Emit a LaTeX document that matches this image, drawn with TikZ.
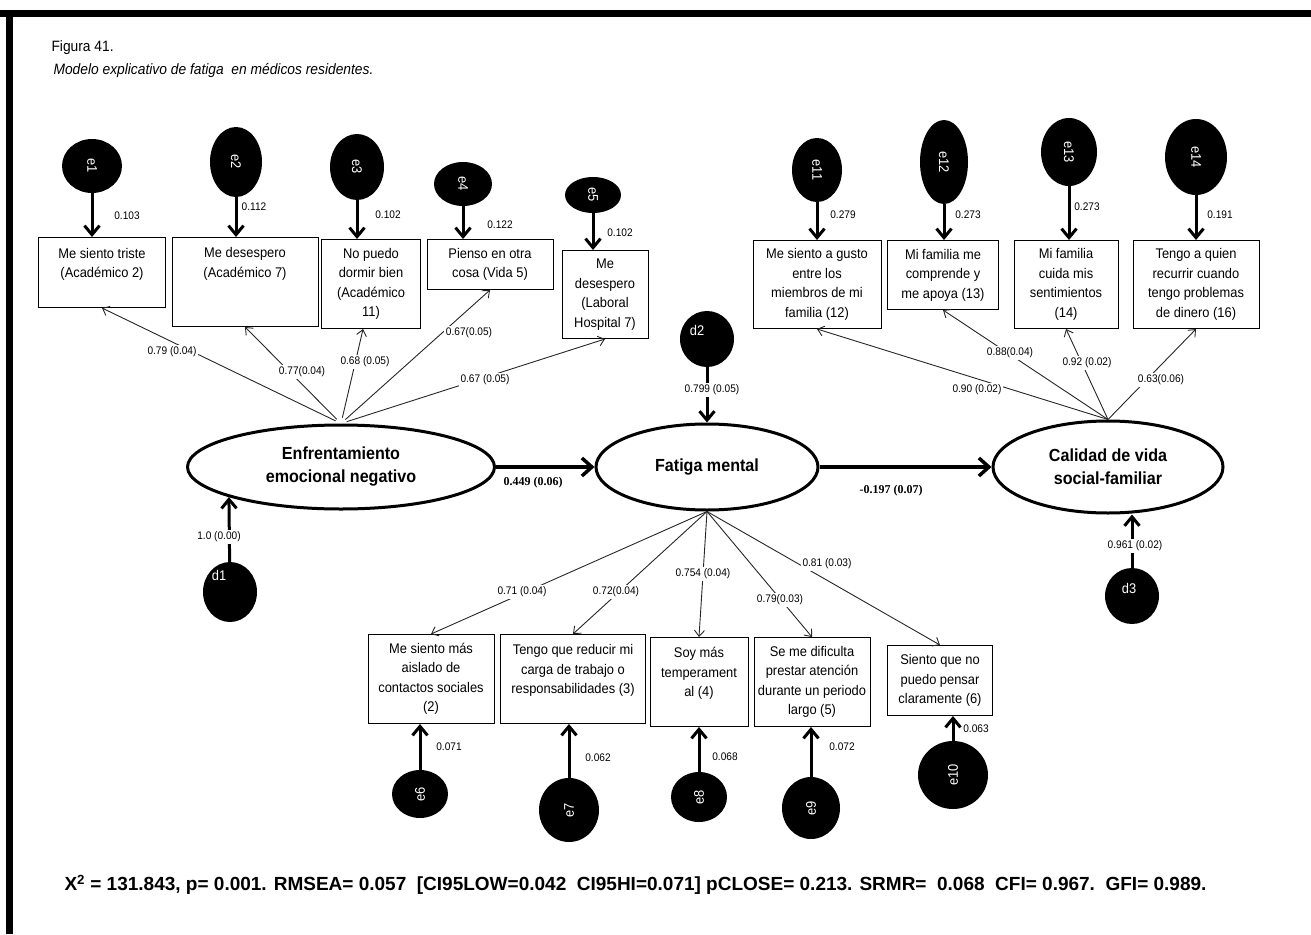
\documentclass[tikz,border=0pt]{standalone}
\usepackage{fontspec}
\setmainfont{Liberation Sans}
\newfontfamily\narrowsf[FakeStretch=0.92]{Liberation Sans}
\newfontfamily\serifnum{Liberation Serif}
\usetikzlibrary{arrows.meta,shapes.geometric}

\begin{document}
\begin{tikzpicture}[x=1pt, y=-1pt,
	ind/.style={draw, line width=1pt, inner sep=1pt, align=center, anchor=north, font=\narrowsf\fontsize{14}{19.5}\selectfont},
	lat/.style={draw, ellipse, line width=3pt, inner sep=0pt, align=center, font=\narrowsf\bfseries\fontsize{17.5}{23}\selectfont},
	err/.style={ellipse, fill=black, inner sep=0pt, text=white, font=\narrowsf\fontsize{14}{16}\selectfont},
	dlab/.style={text=white, font=\narrowsf\fontsize{14}{16}\selectfont},
	load/.style={line width=0.9pt, draw=black!85, -{Straight Barb[length=6pt,width=10pt]}},
	res/.style={line width=3pt, -{Straight Barb[length=9pt,width=15pt]}},
	regr/.style={line width=3.5pt, -{Straight Barb[length=10pt,width=18pt]}},
	num/.style={font=\narrowsf\fontsize{11}{13}\selectfont, inner sep=1.5pt},
	coef/.style={num, fill=white},
	beta/.style={font=\serifnum\bfseries\fontsize{12}{14}\selectfont}]
	\useasboundingbox (0,0) rectangle (1311,934);
	\fill (0,10) rectangle (1311,17);
	\fill (6,10) rectangle (13,934);

	\node[anchor=west, font=\narrowsf\fontsize{15}{17}\selectfont] at (48,48) {Figura 41.};
	\node[anchor=west, font=\narrowsf\itshape\fontsize{15}{17}\selectfont] at (50,71) {Modelo explicativo de fatiga~ en médicos residentes.};

	% latent variables
	\node[lat, minimum width=307, minimum height=84] (enf) at (341,467) {Enfrentamiento\\emocional negativo};
	\node[lat, minimum width=222, minimum height=86] (fat) at (707,467) {Fatiga mental};
	\node[lat, minimum width=230, minimum height=92] (cal) at (1108,467) {Calidad de vida\\social-familiar};

	% items
	\node[ind, minimum width=127, minimum height=70] (x1) at (102,237) {Me siento triste\\(Académico 2)\\~};
	\node[ind, minimum width=146, minimum height=89] (x2) at (245,237) {Me desespero\\(Académico 7)\\~\\~};
	\node[ind, minimum width=99, minimum height=89] (x3) at (371,239) {No puedo\\dormir bien\\(Académico\\11)};
	\node[ind, minimum width=126, minimum height=50] (x4) at (490,239) {Pienso en otra\\cosa (Vida 5)};
	\node[ind, minimum width=86, minimum height=88] (x5) at (605,250) {Me\\desespero\\(Laboral\\Hospital 7)};
	\node[ind, minimum width=126, minimum height=89] (x6) at (431,634) {Me siento más\\aislado de\\contactos sociales\\(2)};
	\node[ind, minimum width=145, minimum height=89] (x7) at (573,634) {Tengo que reducir mi\\carga de trabajo o\\responsabilidades (3)\\~};
	\node[ind, minimum width=98, minimum height=89] (x8) at (699,637) {Soy más\\temperament\\al (4)\\~};
	\node[ind, minimum width=116, minimum height=89] (x9) at (812,637) {Se me dificulta\\prestar atención\\durante un periodo\\largo (5)};
	\node[ind, minimum width=105, minimum height=70] (x10) at (940,645) {Siento que no\\puedo pensar\\claramente (6)};
	\node[ind, minimum width=128, minimum height=88] (x11) at (817,240) {Me siento a gusto\\entre los\\miembros de mi\\familia (12)};
	\node[ind, minimum width=111, minimum height=69] (x12) at (943,240) {Mi familia me\\comprende y\\me apoya (13)};
	\node[ind, minimum width=104, minimum height=88] (x13) at (1066,240) {Mi familia\\cuida mis\\sentimientos\\(14)};
	\node[ind, minimum width=126, minimum height=88] (x14) at (1196,240) {Tengo a quien\\recurrir cuando\\tengo problemas\\de dinero (16)};

	% error terms
	\node[err, minimum width=60, minimum height=54] (e1) at (92,166) {\rotatebox{-90}{e1}};
	\node[err, minimum width=52, minimum height=70] (e2) at (236,162) {\rotatebox{-90}{e2}};
	\node[err, minimum width=54, minimum height=66] (e3) at (357,167) {\rotatebox{-90}{e3}};
	\node[err, minimum width=58, minimum height=44] (e4) at (463,184) {\rotatebox{-90}{e4}};
	\node[err, minimum width=56, minimum height=36] (e5) at (593,195) {\rotatebox{-90}{e5}};
	\node[err, minimum width=50, minimum height=64] (e11) at (817,170) {\rotatebox{-90}{e11}};
	\node[err, minimum width=48, minimum height=84] (e12) at (944,162) {\rotatebox{-90}{e12}};
	\node[err, minimum width=56, minimum height=68] (e13) at (1069,152) {\rotatebox{-90}{e13}};
	\node[err, minimum width=62, minimum height=76] (e14) at (1196,157) {\rotatebox{-90}{e14}};
	\node[err, minimum width=56, minimum height=48] (e6) at (420,794) {\rotatebox{90}{e6}};
	\node[err, minimum width=60, minimum height=64] (e7) at (569,810) {\rotatebox{90}{e7}};
	\node[err, minimum width=56, minimum height=50] (e8) at (699,797) {\rotatebox{90}{e8}};
	\node[err, minimum width=58, minimum height=62] (e9) at (811,808) {\rotatebox{90}{e9}};
	\node[err, minimum width=70, minimum height=68] (e10) at (953,775) {\rotatebox{90}{e10}};
	\node[err, minimum width=54, minimum height=60, label={[dlab, xshift=-11pt, yshift=17pt]center:d1}] (d1) at (230,592) {};
	\node[err, minimum width=54, minimum height=56, label={[dlab, xshift=-10pt, yshift=9pt]center:d2}] (d2) at (707,339) {};
	\node[err, minimum width=54, minimum height=56, label={[dlab, xshift=-3pt, yshift=8pt]center:d3}] (d3) at (1132,596) {};

	\foreach \e/\x in {e1/x1, e2/x2, e3/x3, e4/x4, e5/x5, e11/x11, e12/x12, e13/x13, e14/x14}
		\draw[res] (\e) -- (\e |- \x.north);
	\foreach \e/\x in {e6/x6, e7/x7, e8/x8, e9/x9, e10/x10}
		\draw[res] (\e) -- (\e |- \x.south);
	\draw[res] (d1) -- (enf.-165);
	\draw[res] (d2) -- (fat);
	\draw[res] (d3) -- (d3 |- cal.south);

	% loadings
	\foreach \x in {x1, x2, x4, x5}
		\draw[load, shorten <=6pt] (enf.north) -- (\x.south);
	\draw[load, shorten <=6pt] (enf.north) -- (x3.-100);
	\foreach \x in {x6, x7, x8, x9, x10}
		\draw[load] (fat.south) -- (\x.north);
	\foreach \x in {x11, x12, x13, x14}
		\draw[load] (cal.north) -- (\x.south);

	\draw[regr] (enf) -- (fat);
	\draw[regr] (fat) -- (cal);
	\node[beta] at (533,483) {0.449 (0.06)};
	\node[beta] at (891,491) {-0.197 (0.07)};

	\node[coef] at (172,352) {0.79 (0.04)};
	\node[coef] at (302,372) {0.77(0.04)};
	\node[coef] at (365,362) {0.68 (0.05)};
	\node[coef] at (469,333) {0.67(0.05)};
	\node[coef] at (485,380) {0.67 (0.05)};
	\node[coef] at (977,390) {0.90 (0.02)};
	\node[coef] at (1010,353) {0.88(0.04)};
	\node[coef] at (1087,363) {0.92 (0.02)};
	\node[coef] at (1161,380) {0.63(0.06)};
	\node[coef] at (522,592) {0.71 (0.04)};
	\node[coef] at (616,592) {0.72(0.04)};
	\node[coef] at (703,574) {0.754 (0.04)};
	\node[coef] at (780,600) {0.79(0.03)};
	\node[coef] at (827,564) {0.81 (0.03)};
	\node[coef] at (219,537) {1.0 (0.00)};
	\node[coef] at (712,390) {0.799 (0.05)};
	\node[coef] at (1135,546) {0.961 (0.02)};

	% error variances
	\node[num] at (127,216) {0.103};
	\node[num] at (254,207) {0.112};
	\node[num] at (388,215) {0.102};
	\node[num] at (500,225) {0.122};
	\node[num] at (620,233) {0.102};
	\node[num] at (843,215) {0.279};
	\node[num] at (968,215) {0.273};
	\node[num] at (1087,207) {0.273};
	\node[num] at (1220,215) {0.191};
	\node[num] at (449,747) {0.071};
	\node[num] at (598,758) {0.062};
	\node[num] at (725,757) {0.068};
	\node[num] at (842,747) {0.072};
	\node[num] at (976,729) {0.063};

	\node[anchor=west, font=\bfseries\fontsize{19}{21}\selectfont] at (61,885) {X\textsuperscript{2} = 131.843, p= 0.001. RMSEA= 0.057~~[CI95LOW=0.042~~CI95HI=0.071] pCLOSE= 0.213. SRMR=~~0.068~~CFI= 0.967.~~GFI= 0.989.};
\end{tikzpicture}
\end{document}
